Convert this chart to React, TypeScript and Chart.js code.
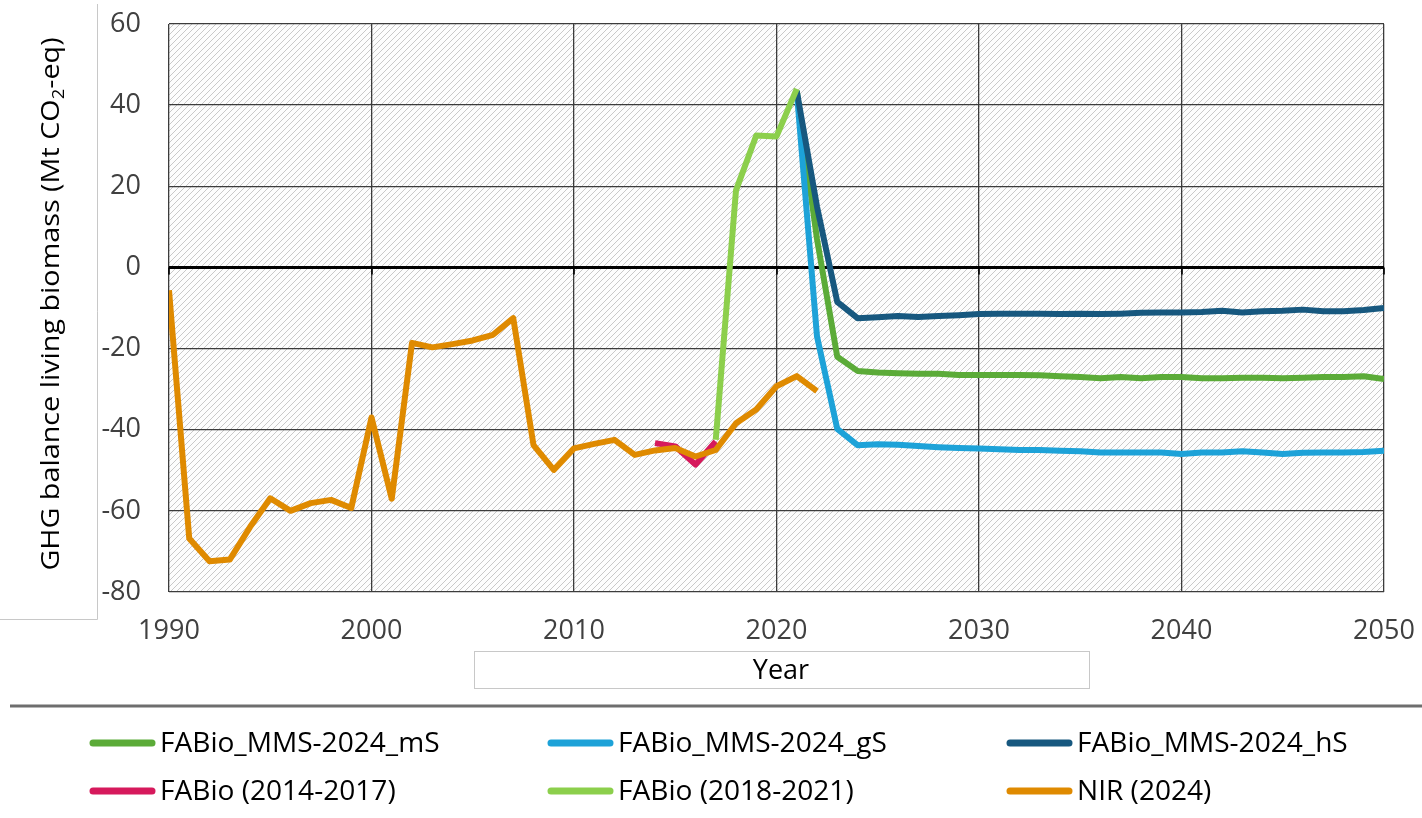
import React, { useEffect, useRef } from "react";
import { Chart, registerables } from "chart.js";

Chart.register(...registerables);

// ---------- data ----------
const xTickValues = [1990, 2000, 2010, 2020, 2030, 2040, 2050];
const yTickValues = [-80, -60, -40, -20, 0, 20, 40, 60];

const nirStart = 1990;
const nirValues = [
  -5.6, -66.8, -72.4, -72, -64, -56.9, -60, -58.1, -57.3, -59.3,
  -37, -57, -18.6, -19.7, -18.9, -18, -16.6, -12.5, -43.8, -49.9,
  -44.6, -43.5, -42.5, -46.2, -45.1, -44.5, -46.6, -45, -38.4, -35,
  -29.3, -26.8, -30.5,
];

const fabio1417Start = 2014;
const fabio1417Values = [-43.3, -44.1, -48.6, -42.9];

const fabio1821Start = 2017;
const fabio1821Values = [-42.5, 19, 32.5, 32.3, 44];

const scenarioStart = 2021;
const mSValues = [
  43.5, 7, -22, -25.5, -25.9, -26.1, -26.2, -26.2, -26.5, -26.5,
  -26.5, -26.5, -26.6, -26.8, -27, -27.3, -27, -27.3, -27, -27,
  -27.3, -27.3, -27.2, -27.2, -27.3, -27.2, -27, -27, -26.8, -27.5,
];
const gSValues = [
  43.5, -17, -39.8, -43.8, -43.6, -43.7, -44, -44.3, -44.5, -44.6,
  -44.8, -45, -45, -45.2, -45.3, -45.6, -45.6, -45.6, -45.6, -46,
  -45.6, -45.6, -45.3, -45.6, -46, -45.7, -45.6, -45.6, -45.5, -45.2,
];
const hSValues = [
  43.5, 15, -8.5, -12.5, -12.3, -12, -12.2, -12, -11.8, -11.5,
  -11.4, -11.4, -11.4, -11.5, -11.4, -11.5, -11.4, -11.2, -11.1, -11.1,
  -11, -10.7, -11.1, -10.8, -10.7, -10.4, -10.8, -10.8, -10.5, -10,
];

const seriesLabels = [
  "FABio_MMS-2024_mS",
  "FABio_MMS-2024_gS",
  "FABio_MMS-2024_hS",
  "FABio (2014-2017)",
  "FABio (2018-2021)",
  "NIR (2024)",
];
const seriesColors = ["#5bab38", "#1da2d8", "#17587f", "#d6195c", "#8ccf4c", "#df8a00"];

const yTitleMain = "GHG balance living biomass (Mt CO";
const yTitleSub = "2";
const yTitleEnd = "-eq)";
const xTitle = "Year";

const FONT = "'Open Sans', 'Liberation Sans', sans-serif";

function toPoints(start: number, values: number[]) {
  return values.map((v, i) => ({ x: start + i, y: v }));
}

function makeHatch(): CanvasPattern | string {
  const tile = document.createElement("canvas");
  tile.width = 6;
  tile.height = 6;
  const t = tile.getContext("2d");
  if (!t) return "#eeeeee";
  t.fillStyle = "#fdfdfd";
  t.fillRect(0, 0, 6, 6);
  t.strokeStyle = "#c9c9c9";
  t.lineWidth = 1;
  t.beginPath();
  t.moveTo(0, 6);
  t.lineTo(6, 0);
  t.moveTo(-1, 1);
  t.lineTo(1, -1);
  t.moveTo(5, 7);
  t.lineTo(7, 5);
  t.stroke();
  const p = t.createPattern(tile, "repeat");
  return p || "#eeeeee";
}

function stretchedText(
  ctx: CanvasRenderingContext2D,
  text: string,
  x: number,
  y: number,
  sx: number
) {
  ctx.save();
  ctx.translate(x, y);
  ctx.scale(sx, 1);
  ctx.fillText(text, 0, 0);
  ctx.restore();
}

const decorPlugin = {
  id: "decor",
  beforeDraw(chart: any) {
    const { ctx, chartArea } = chart;
    ctx.save();
    ctx.fillStyle = "#ffffff";
    ctx.fillRect(0, 0, chart.width, chart.height);
    ctx.fillStyle = makeHatch();
    ctx.fillRect(
      chartArea.left,
      chartArea.top,
      chartArea.right - chartArea.left,
      chartArea.bottom - chartArea.top
    );
    ctx.restore();
  },
  beforeDatasetsDraw(chart: any) {
    const { ctx } = chart;
    const xs = chart.scales.x;
    const ys = chart.scales.y;
    const y0 = ys.getPixelForValue(0);
    ctx.save();
    ctx.strokeStyle = "#000000";
    ctx.lineWidth = 1.6;
    ctx.beginPath();
    xTickValues.forEach((v) => {
      const px = Math.round(xs.getPixelForValue(v));
      ctx.moveTo(px, y0);
      ctx.lineTo(px, y0 + 7);
    });
    ctx.stroke();
    ctx.restore();
  },
  afterDraw(chart: any) {
    const { ctx } = chart;
    ctx.save();

    // y title box edges
    ctx.strokeStyle = "#c8c8c8";
    ctx.lineWidth = 1;
    ctx.beginPath();
    ctx.moveTo(97.5, 4);
    ctx.lineTo(97.5, 619.5);
    ctx.lineTo(0, 619.5);
    ctx.stroke();

    // y title (rotated)
    ctx.fillStyle = "#000000";
    ctx.textBaseline = "alphabetic";
    ctx.textAlign = "left";
    const mainFont = `25px ${FONT}`;
    const subFont = `16px ${FONT}`;
    const sx = 1.15;
    ctx.font = mainFont;
    const w1 = ctx.measureText(yTitleMain).width * sx;
    const w3 = ctx.measureText(yTitleEnd).width * sx;
    ctx.font = subFont;
    const w2 = ctx.measureText(yTitleSub).width * sx;
    const total = w1 + w2 + w3;
    ctx.save();
    ctx.translate(59, 304);
    ctx.rotate(-Math.PI / 2);
    let cx = -total / 2;
    ctx.font = mainFont;
    stretchedText(ctx, yTitleMain, cx, 0, sx);
    cx += w1;
    ctx.font = subFont;
    stretchedText(ctx, yTitleSub, cx, 5, sx);
    cx += w2;
    ctx.font = mainFont;
    stretchedText(ctx, yTitleEnd, cx, 0, sx);
    ctx.restore();

    // x title box
    ctx.strokeStyle = "#c8c8c8";
    ctx.lineWidth = 1;
    ctx.strokeRect(474.5, 651.5, 615, 37);
    ctx.fillStyle = "#000000";
    ctx.font = `27px ${FONT}`;
    ctx.textAlign = "center";
    ctx.textBaseline = "middle";
    ctx.fillText(xTitle, 781, 671);

    // separator line
    ctx.strokeStyle = "#6e6e6e";
    ctx.lineWidth = 3;
    ctx.beginPath();
    ctx.moveTo(10, 706);
    ctx.lineTo(1422, 706);
    ctx.stroke();

    // legend
    const colX = [90, 548, 1007];
    const rowY = [743, 791];
    ctx.textAlign = "left";
    ctx.textBaseline = "middle";
    ctx.font = `27px ${FONT}`;
    seriesLabels.forEach((label, k) => {
      const c = k % 3;
      const r = Math.floor(k / 3);
      const x = colX[c];
      const y = rowY[r];
      ctx.strokeStyle = seriesColors[k];
      ctx.lineWidth = 7;
      ctx.lineCap = "round";
      ctx.beginPath();
      ctx.moveTo(x + 3, y);
      ctx.lineTo(x + 62, y);
      ctx.stroke();
      ctx.fillStyle = "#000000";
      stretchedText(ctx, label, x + 70, y + 1, 1.04);
    });

    ctx.restore();
  },
};

export default function App() {
  const canvasRef = useRef<HTMLCanvasElement | null>(null);

  useEffect(() => {
    document.body.style.margin = "0";
    const canvas = canvasRef.current;
    if (!canvas) return;

    const values = [
      toPoints(scenarioStart, mSValues),
      toPoints(scenarioStart, gSValues),
      toPoints(scenarioStart, hSValues),
      toPoints(fabio1417Start, fabio1417Values),
      toPoints(fabio1821Start, fabio1821Values),
      toPoints(nirStart, nirValues),
    ];

    const datasets = values.map((pts, i) => ({
      label: seriesLabels[i],
      data: pts,
      borderColor: seriesColors[i],
      backgroundColor: seriesColors[i],
      borderWidth: 6,
      pointRadius: 0,
      tension: 0,
      fill: false,
      borderJoinStyle: "round" as const,
      borderCapStyle: "butt" as const,
      order: 6 - i,
    }));

    const tickFont = { family: FONT, size: 27 };

    const chart = new Chart(canvas, {
      type: "line",
      data: { datasets },
      options: {
        animation: false,
        responsive: false,
        devicePixelRatio: 1,
        layout: { padding: { left: 0, top: 24, right: 38, bottom: 166 } },
        plugins: {
          legend: { display: false },
          tooltip: { enabled: false },
        },
        scales: {
          x: {
            type: "linear",
            min: 1990,
            max: 2050,
            afterBuildTicks: (s: any) => {
              s.ticks = xTickValues.map((v) => ({ value: v }));
            },
            afterFit: (s: any) => {
              s.height = 60;
              s.paddingLeft = 0;
              s.paddingRight = 0;
            },
            grid: {
              color: "#3c3c3c",
              lineWidth: 1.3,
              drawTicks: false,
            },
            border: { display: false },
            ticks: {
              font: tickFont,
              color: "#404040",
              padding: 23,
              maxRotation: 0,
              autoSkip: false,
              callback: (v: any) => String(v),
            },
          },
          y: {
            type: "linear",
            min: -80,
            max: 60,
            afterBuildTicks: (s: any) => {
              s.ticks = yTickValues.map((v) => ({ value: v }));
            },
            afterFit: (s: any) => {
              s.width = 169;
              s.paddingTop = 0;
              s.paddingBottom = 0;
            },
            grid: {
              color: (c: any) => (c.tick && c.tick.value === 0 ? "#000000" : "#3c3c3c"),
              lineWidth: (c: any) => (c.tick && c.tick.value === 0 ? 3 : 1.3),
              drawTicks: false,
            },
            border: { display: false },
            ticks: {
              font: tickFont,
              color: "#404040",
              padding: 28,
              autoSkip: false,
            },
          },
        },
      },
      plugins: [decorPlugin],
    } as any);

    return () => {
      chart.destroy();
    };
  }, []);

  return (
    <div style={{ width: 1422, height: 818, position: "relative" }}>
      <canvas
        ref={canvasRef}
        width={1422}
        height={818}
        style={{ width: 1422, height: 818, display: "block" }}
      />
    </div>
  );
}
